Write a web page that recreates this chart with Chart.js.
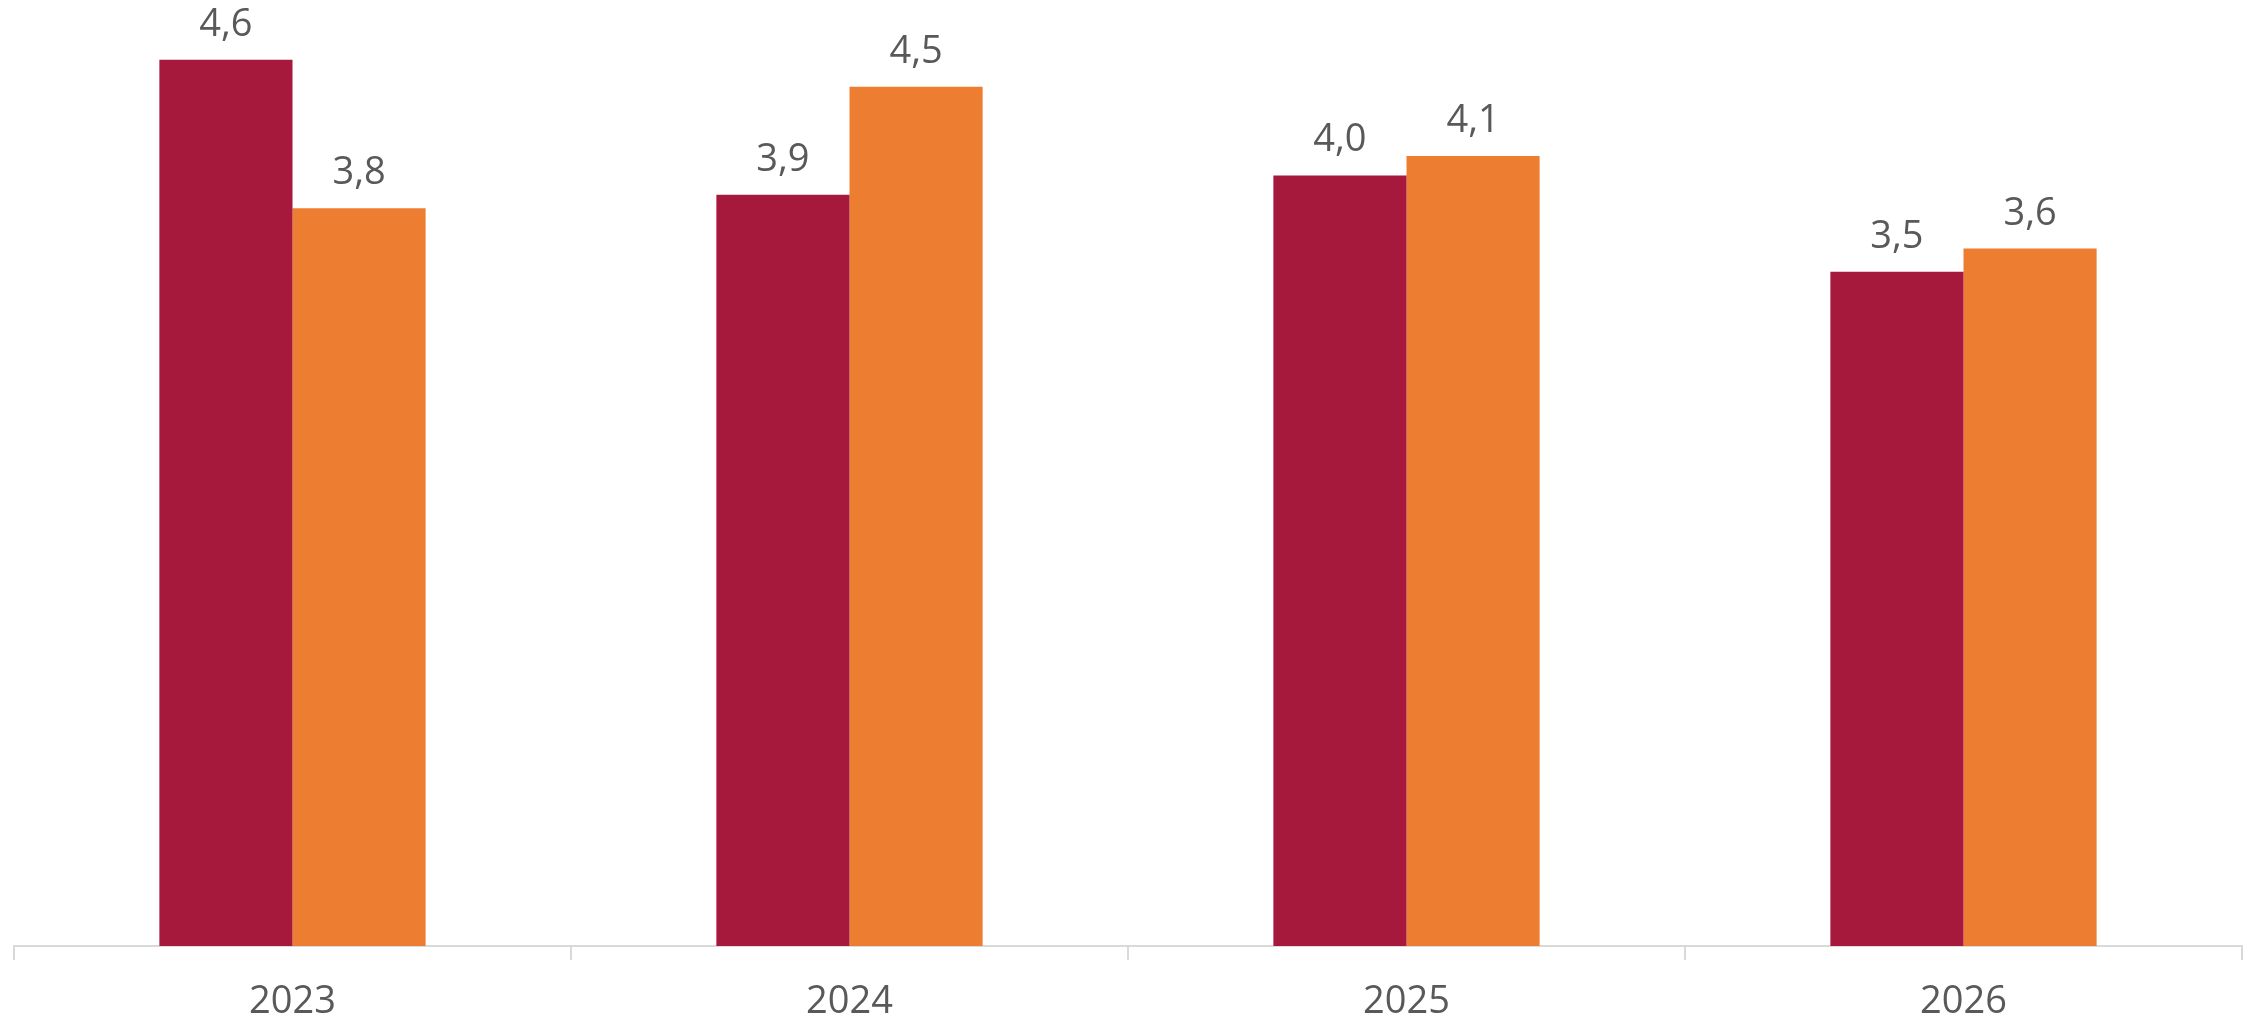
<!DOCTYPE html>
<html>
<head>
<meta charset="utf-8">
<script src="https://cdn.jsdelivr.net/npm/chart.js@4"></script>
<style>
  html, body { margin: 0; padding: 0; background: #fff; }
  #wrap { width: 2260px; height: 1021px; }
</style>
</head>
<body>
<div id="wrap"><canvas id="chart"></canvas></div>
<script>
const years = ["2023", "2024", "2025", "2026"];
const seriesA = [4.6, 3.9, 4.0, 3.5];
const seriesB = [3.83, 4.46, 4.1, 3.62];

// value labels above the bars, comma as decimal separator
const barLabels = {
    id: "barLabels",
    afterDatasetsDraw(chart) {
        const ctx = chart.ctx;
        ctx.save();
        ctx.font = "38px 'Open Sans'";
        ctx.fillStyle = "#595959";
        ctx.textAlign = "center";
        ctx.textBaseline = "alphabetic";
        chart.data.datasets.forEach(function (ds, i) {
            chart.getDatasetMeta(i).data.forEach(function (bar, j) {
                const txt = (Math.round(ds.data[j] * 10) / 10).toFixed(1).replace(".", ",");
                ctx.fillText(txt, bar.x, bar.y - 24);
            });
        });
        ctx.restore();
    }
};

new Chart(document.getElementById("chart"), {
    type: "bar",
    data: {
        labels: years,
        datasets: [
            { data: seriesA, backgroundColor: "#A6193C" },
            { data: seriesB, backgroundColor: "#ED7D31" }
        ]
    },
    options: {
        responsive: true,
        maintainAspectRatio: false,
        animation: false,
        datasets: { bar: { categoryPercentage: 0.478, barPercentage: 1.0 } },
        layout: { padding: { top: 2, left: 14, right: 18, bottom: 0 } },
        plugins: { legend: { display: false }, tooltip: { enabled: false } },
        scales: {
            x: {
                grid: {
                    offset: true,
                    drawOnChartArea: false,
                    drawTicks: true,
                    tickLength: 14,
                    color: "#d9d9d9",
                    lineWidth: 2
                },
                border: { display: true, color: "#d9d9d9", width: 2 },
                ticks: {
                    padding: 19,
                    color: "#595959",
                    font: { family: "'Open Sans'", size: 38, lineHeight: 1.2 }
                },
                afterFit: function (scale) { scale.height = 75; }
            },
            y: {
                display: false,
                min: 0,
                max: 4.9
            }
        }
    },
    plugins: [barLabels]
});
</script>
</body>
</html>
